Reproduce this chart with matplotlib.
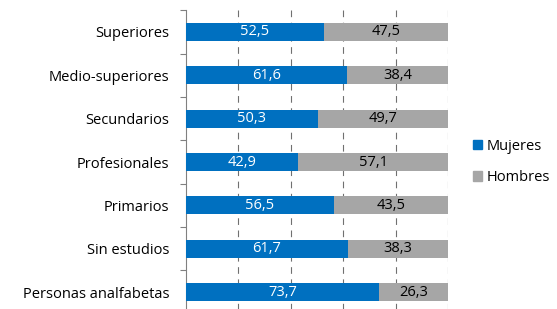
import matplotlib
matplotlib.use("Agg")
import matplotlib.pyplot as plt
from matplotlib.patches import Patch

categories = ["Superiores", "Medio-superiores", "Secundarios", "Profesionales",
              "Primarios", "Sin estudios", "Personas analfabetas"]
mujeres = [52.5, 61.6, 50.3, 42.9, 56.5, 61.7, 73.7]
hombres = [47.5, 38.4, 49.7, 57.1, 43.5, 38.3, 26.3]

blue = "#0070C0"
gray = "#A6A6A6"

plt.rcParams['font.family'] = ['Open Sans', 'DejaVu Sans']

fig = plt.figure(figsize=(5.57, 3.09), dpi=100)
ax = fig.add_axes([186/557, -4.7/309, 262/557, 303.4/309])

n = len(categories)
ys = list(range(n))
bh = 0.42
ax.barh(ys, mujeres, height=bh, color=blue, zorder=3)
ax.barh(ys, hombres, left=mujeres, height=bh, color=gray, zorder=3)

for y, m, h in zip(ys, mujeres, hombres):
    ax.text(m / 2, y, f"{m:.1f}".replace(".", ","), ha="center", va="center",
            color="white", fontsize=10.5, zorder=4)
    ax.text(m + h / 2, y, f"{h:.1f}".replace(".", ","), ha="center", va="center",
            color="black", fontsize=10.5, zorder=4)

ax.set_xlim(0, 100)
ax.set_ylim(n - 0.5, -0.5)
ax.set_xticks([])
for x in [20, 40, 60, 80, 100]:
    ax.axvline(x, color="#707070", lw=0.8, ls=(0, (6, 5)), zorder=1)

ax.set_yticks(ys)
ax.set_yticklabels(categories, fontsize=10.5)
ax.set_yticks([i + 0.5 for i in range(-1, n)], minor=True)
ax.tick_params(axis="y", which="major", length=0, pad=12)
ax.tick_params(axis="y", which="minor", length=4, color="#808080", width=0.8)
for s in ["top", "right", "bottom"]:
    ax.spines[s].set_visible(False)
ax.spines["left"].set_color("#808080")
ax.spines["left"].set_linewidth(0.8)

handles = [Patch(color=blue, label="Mujeres"), Patch(color=gray, label="Hombres")]
fig.legend(handles=handles, loc="center left", bbox_to_anchor=(460/557, 1 - 162/309),
           frameon=False, fontsize=10.5, handlelength=0.6, handleheight=0.6,
           handletextpad=0.3, labelspacing=1.1)

fig.savefig("out.png", dpi=100)
